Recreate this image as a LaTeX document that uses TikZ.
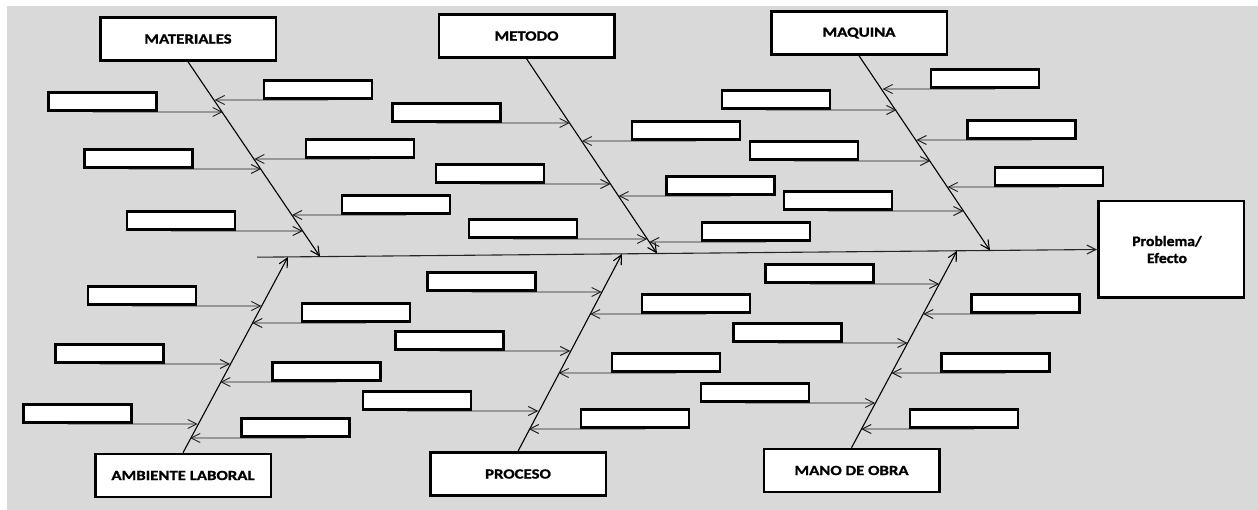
\documentclass[tikz,border=0pt]{standalone}
\usepackage{fontspec}
\setmainfont{Carlito}[BoldFont={Carlito Bold}]
\newfontfamily\catfont{Carlito Bold}[FakeStretch=1.2, FakeBold=1.2]
\newfontfamily\effont{Carlito Bold}[FakeStretch=1.08, FakeBold=1.2]
\usetikzlibrary{arrows.meta}
\definecolor{bgc}{HTML}{D9D9D9}
\definecolor{arc}{HTML}{202020}
\tikzset{
  catbox/.style={draw=black, line width=2.5pt, fill=white, minimum width=175.5pt, minimum height=43pt, inner sep=0pt, font=\catfont\fontsize{14}{16}\selectfont},
  subbox/.style={draw=black, line width=2.4pt, fill=white, minimum width=108pt, minimum height=18pt, inner sep=0pt},
  effbox/.style={draw=black, line width=2.5pt, fill=white, minimum width=145.5pt, minimum height=96.5pt, inner sep=0pt, align=center, font=\effont\fontsize{14.5}{17}\selectfont},
  bone/.style={draw=black, line width=1.1pt, -{Straight Barb[length=9pt,width=9pt]}},
  spinel/.style={draw=black!85, line width=1.1pt, -{Straight Barb[length=9pt,width=9pt]}},
  rib/.style={draw=arc, line width=0.95pt, -{Straight Barb[length=9pt,width=9pt]}},
}
\newcommand\cause[5]{%
  \node[subbox] (#1) at (#2,{#3-10.6}) {};
  \coordinate (#1e) at (#5,#3);
  \draw[rib] ([xshift=#4,yshift=-0.4pt]#1.south) -- (#1e);}
\begin{document}
\begin{tikzpicture}[x=1pt,y=-1pt]
\useasboundingbox (0,0) rectangle (1258,510);
\fill[white] (0,0) rectangle (1258,510);
\fill[bgc] (7,6) rectangle (1258,510);

% category boxes
\node[catbox] (mat) at (188,39) {MATERIALES};
\node[catbox] (met) at (526.5,36) {METODO};
\node[catbox] (maq) at (859,33) {MAQUINA};
\node[catbox] (amb) at (183,475.5) {AMBIENTE LABORAL};
\node[catbox] (pro) at (518,474) {PROCESO};
\node[catbox] (man) at (851.5,470.5) {MANO DE OBRA};
\node[effbox] (pe) at (1171,249.5) {\hspace*{-8pt}Problema/\\\hspace*{-8pt}Efecto};

% spine
\coordinate (s0) at (257,257.2);
\draw[spinel] (s0) -- (pe.west);

% bone tips on spine
\coordinate (matT) at (320,256.6);
\coordinate (metT) at (657,253.5);
\coordinate (maqT) at (990,250.5);
\coordinate (ambT) at (288,256.9);
\coordinate (proT) at (622,253.9);
\coordinate (manT) at (957,250.8);

\draw[bone] (mat.south) -- (matT);
\draw[bone] (met.south) -- (metT);
\draw[bone] (maq.south) -- (maqT);
\draw[bone] (amb.north) -- (ambT);
\draw[bone] (pro.north) -- (proT);
\draw[bone] (man.north) -- (manT);

% MATERIALES
\cause{m1}{102.5}{112}{-10pt}{222.7}
\cause{m2}{138.5}{169}{-10pt}{261.1}
\cause{m3}{181}{231}{-10pt}{302.8}
\cause{m4}{318}{100}{10pt}{214.6}
\cause{m5}{360}{159}{10pt}{254.3}
\cause{m6}{396}{215}{10pt}{292.0}
% METODO
\cause{t1}{446.5}{123}{-10pt}{569.7}
\cause{t2}{490}{184}{-10pt}{610.5}
\cause{t3}{523}{239}{-10pt}{647.2}
\cause{t4}{686}{141}{10pt}{581.8}
\cause{t5}{720.5}{196}{10pt}{618.5}
\cause{t6}{756}{242}{10pt}{649.2}
% MAQUINA
\cause{q1}{776}{110}{-10pt}{896.5}
\cause{q2}{804}{161}{-10pt}{930.3}
\cause{q3}{838}{211}{-10pt}{963.5}
\cause{q4}{985}{89}{10pt}{882.6}
\cause{q5}{1021.5}{140}{10pt}{916.4}
\cause{q6}{1049}{187}{10pt}{947.6}
% AMBIENTE LABORAL
\cause{a1}{142}{306}{-10pt}{261.4}
\cause{a2}{109.5}{364}{-10pt}{230.1}
\cause{a3}{77.5}{424}{-10pt}{197.7}
\cause{a4}{356}{323}{10pt}{252.2}
\cause{a5}{326.5}{382}{10pt}{220.3}
\cause{a6}{295.5}{438}{10pt}{190.1}
% PROCESO
\cause{p1}{481.5}{292}{-10pt}{601.7}
\cause{p2}{449.5}{351}{-10pt}{570.3}
\cause{p3}{417}{411}{-10pt}{538.3}
\cause{p4}{696}{314}{10pt}{590.0}
\cause{p5}{666}{373}{10pt}{558.6}
\cause{p6}{635}{429}{10pt}{528.7}
% MANO DE OBRA
\cause{n1}{819.5}{284}{-10pt}{939.3}
\cause{n2}{787.5}{343}{-10pt}{907.6}
\cause{n3}{755}{403}{-10pt}{875.2}
\cause{n4}{1025.5}{314}{10pt}{923.2}
\cause{n5}{995.5}{373}{10pt}{891.4}
\cause{n6}{964}{429}{10pt}{861.2}
\end{tikzpicture}
\end{document}
